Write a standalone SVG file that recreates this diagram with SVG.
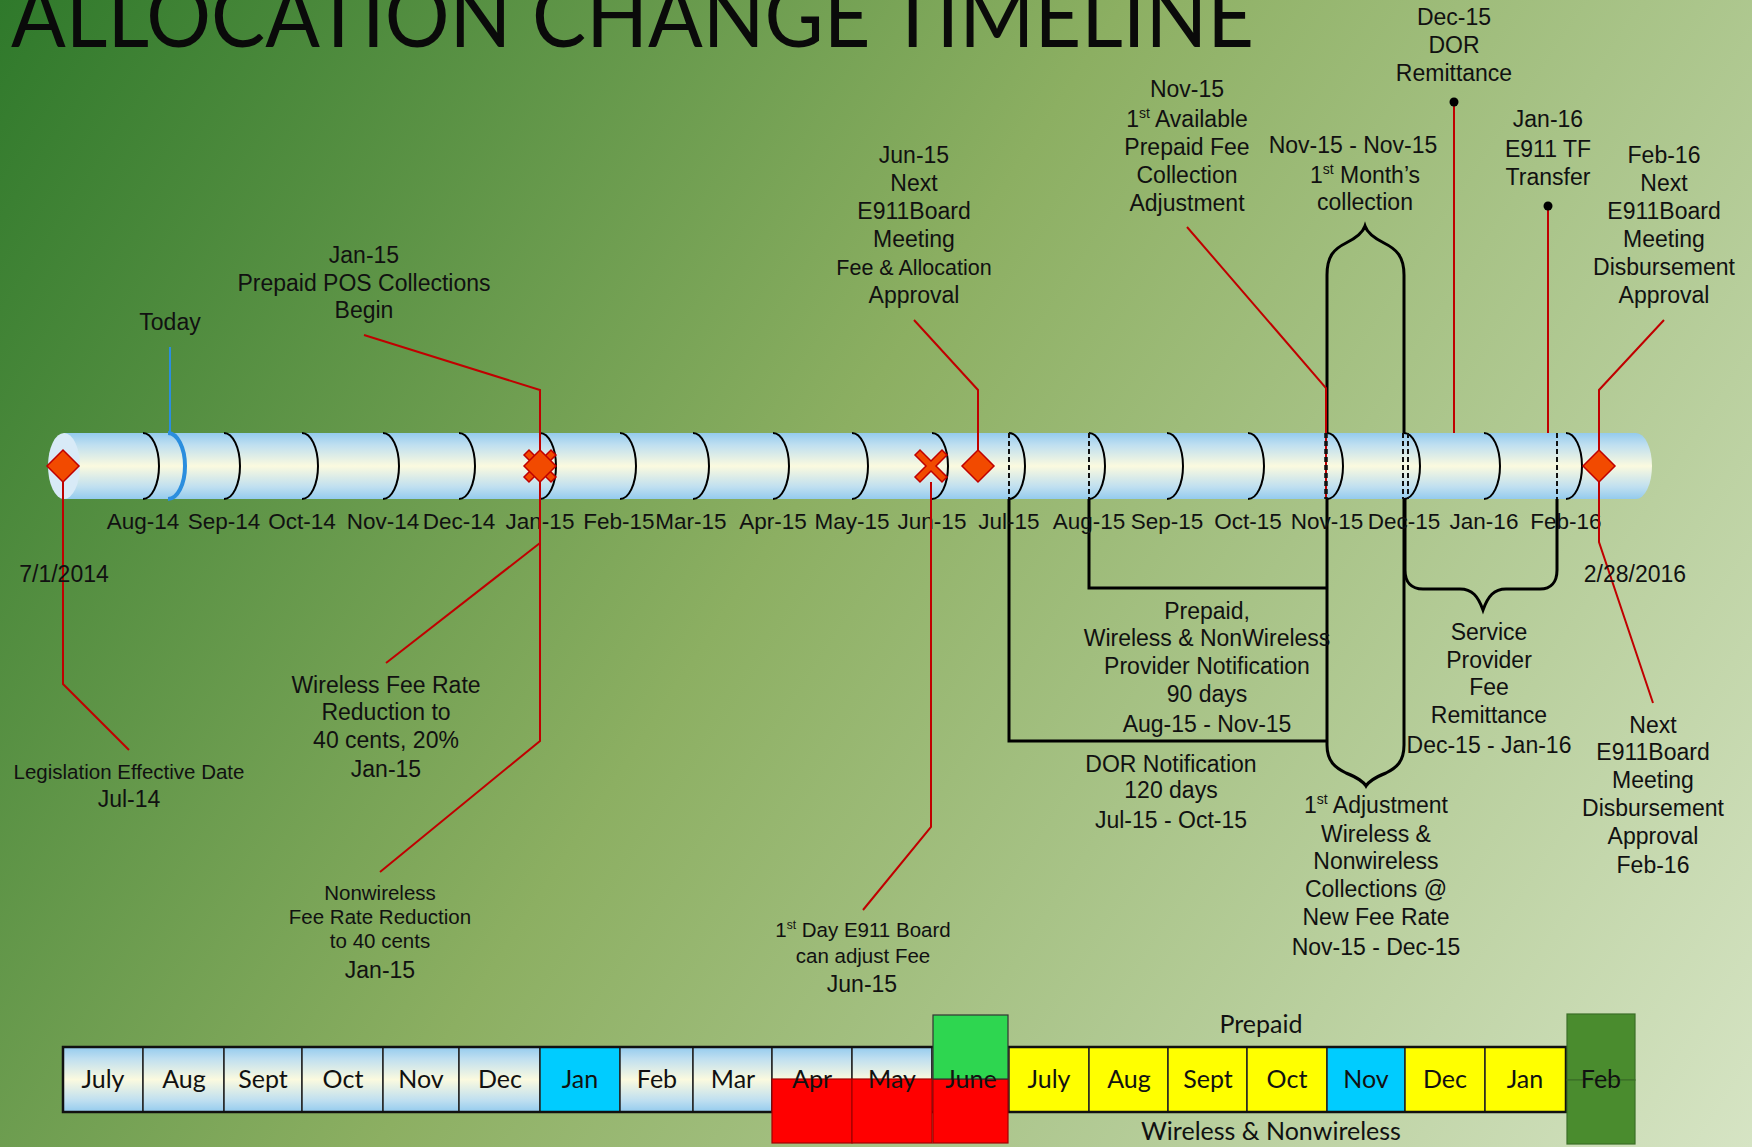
<svg xmlns="http://www.w3.org/2000/svg" width="1752" height="1147" viewBox="0 0 1752 1147">
  <defs>
    <linearGradient id="bg" gradientUnits="userSpaceOnUse" x1="0" y1="0" x2="1752" y2="1147">
      <stop offset="0" stop-color="#2f792b"/>
      <stop offset="0.45" stop-color="#8caf62"/>
      <stop offset="1" stop-color="#d6e4c4"/>
    </linearGradient>
    <linearGradient id="pipe" x1="0" y1="0" x2="0" y2="1">
      <stop offset="0" stop-color="#94cbee"/>
      <stop offset="0.18" stop-color="#bfdff0"/>
      <stop offset="0.5" stop-color="#fbfadf"/>
      <stop offset="0.82" stop-color="#bfdff0"/>
      <stop offset="1" stop-color="#94cbee"/>
    </linearGradient>
    <path id="diamond" d="M0 -16 L16 0 L0 16 L-16 0 Z"/>
    <path id="xmark" d="M-16 -11 L-11 -16 L0 -5 L11 -16 L16 -11 L5 0 L16 11 L11 16 L0 5 L-11 16 L-16 11 L-5 0 Z"/>
    <style>
      .lbl { font-family: "Liberation Sans", Arial, sans-serif; font-size: 23px; fill: #111; text-anchor: middle; }
      .sm { font-size: 20.5px; }
      .axis { font-family: "Liberation Sans", Arial, sans-serif; font-size: 22.5px; fill: #111; text-anchor: middle; }
      .cal { font-family: Lato, "Open Sans", sans-serif; font-size: 25px; fill: #111; text-anchor: middle; }
      .lead { fill: none; stroke: #c00000; stroke-width: 2; }
      .bk { fill: none; stroke: #000; stroke-width: 3; }
      .mk { fill: #f24a00; stroke: #c00000; stroke-width: 1.5; }
      .dash { fill: none; stroke: #111; stroke-width: 2; stroke-dasharray: 5 3; }
      .cell { stroke: #222; stroke-width: 1.5; }
    </style>
  </defs>

  <!-- backdrop -->
  <rect x="0" y="0" width="1752" height="1147" fill="url(#bg)"/>

  <!-- title -->
  <text x="11" y="47" font-family="Lato, 'Open Sans', sans-serif" font-size="88" fill="#0a0a0a" textLength="1243" lengthAdjust="spacingAndGlyphs">ALLOCATION CHANGE TIMELINE</text>

  <!-- span brackets (drawn beneath the pipe) -->
  <g id="brackets">
    <path class="bk" d="M1327 745 V275 C1327 256 1334 249 1346 243 C1358 237 1363 232 1365 226 C1367 232 1372 237 1384 243 C1396 249 1404 256 1404 275 V745 C1404 762 1396 768 1386 773 C1374 778 1369 781 1366 786 C1363 781 1358 778 1346 773 C1336 768 1327 762 1327 745 Z"/>
    <path class="bk" d="M1009 499 V741 H1327"/>
    <path class="bk" d="M1089 499 V588 H1327"/>
    <path class="bk" d="M1405 499 V570 C1405 582 1411 589 1423 589 H1460 C1472 589 1478 596 1483 610 C1488 596 1494 589 1506 589 H1540 C1551 589 1557 582 1557 570 V499"/>
  </g>

  <!-- timeline pipe -->
  <g id="pipe-axis">
    <path d="M64 433 H1636 A16 33 0 0 1 1636 499 H64 Z" fill="url(#pipe)"/>
    <ellipse cx="64" cy="466" rx="16" ry="33" fill="#d8eaf7"/>
    <path fill="none" stroke="#000" stroke-width="2" d="M143 433 A16 33 0 0 1 143 499 M224 433 A16 33 0 0 1 224 499 M302 433 A16 33 0 0 1 302 499 M383 433 A16 33 0 0 1 383 499 M459 433 A16 33 0 0 1 459 499 M540 433 A16 33 0 0 1 540 499 M620 433 A16 33 0 0 1 620 499 M693 433 A16 33 0 0 1 693 499 M773 433 A16 33 0 0 1 773 499 M852 433 A16 33 0 0 1 852 499 M932 433 A16 33 0 0 1 932 499 M1009 433 A16 33 0 0 1 1009 499 M1089 433 A16 33 0 0 1 1089 499 M1167 433 A16 33 0 0 1 1167 499 M1248 433 A16 33 0 0 1 1248 499 M1327 433 A16 33 0 0 1 1327 499 M1404 433 A16 33 0 0 1 1404 499 M1484 433 A16 33 0 0 1 1484 499 M1566 433 A16 33 0 0 1 1566 499"/>
    <path fill="none" stroke="#2b8ede" stroke-width="4" d="M168 433 A17 33 0 0 1 168 499"/>
    <path class="dash" d="M1009 433 V499 M1089 433 V499 M1557 433 V499 M1403 433 V499 M1408 433 V499"/>
    <g class="axis">
      <text x="143" y="529">Aug-14</text>
      <text x="224" y="529">Sep-14</text>
      <text x="302" y="529">Oct-14</text>
      <text x="383" y="529">Nov-14</text>
      <text x="459" y="529">Dec-14</text>
      <text x="540" y="529">Jan-15</text>
      <text x="619" y="529">Feb-15</text>
      <text x="691" y="529">Mar-15</text>
      <text x="773" y="529">Apr-15</text>
      <text x="852" y="529">May-15</text>
      <text x="932" y="529">Jun-15</text>
      <text x="1009" y="529">Jul-15</text>
      <text x="1089" y="529">Aug-15</text>
      <text x="1167" y="529">Sep-15</text>
      <text x="1248" y="529">Oct-15</text>
      <text x="1327" y="529">Nov-15</text>
      <text x="1404" y="529">Dec-15</text>
      <text x="1484" y="529">Jan-16</text>
      <text x="1566" y="529">Feb-16</text>
    </g>
  </g>

  <!-- leader lines -->
  <g id="connectors">
    <path fill="none" stroke="#2b8ede" stroke-width="2" d="M170 347 V433"/>
    <path class="lead" d="M63 482 V684 L129 750"/>
    <path class="lead" d="M364 335 L540 390 V741 L380 872"/>
    <path class="lead" d="M540 543 L386 663"/>
    <path class="lead" d="M914 320 L978 390 V450"/>
    <path class="lead" d="M931 482 V827 L863 910"/>
    <path class="lead" d="M1187 227 L1326 388 V499"/>
    <path class="dash" style="stroke-width:3.5" d="M1326 433 V499"/>
    <path class="lead" d="M1454 102 V433"/>
    <circle cx="1454" cy="102" r="4.5" fill="#000"/>
    <path class="lead" d="M1548 206 V433"/>
    <circle cx="1548" cy="206" r="4.5" fill="#000"/>
    <path class="lead" d="M1664 320 L1599 390 V542 L1653 703"/>
  </g>

  <!-- event markers -->
  <g id="markers">
    <use href="#diamond" x="63" y="466" class="mk"/>
    <use href="#xmark" x="540" y="466" class="mk"/>
    <use href="#diamond" x="540" y="466" class="mk"/>
    <use href="#xmark" x="931" y="466" class="mk"/>
    <use href="#diamond" x="978" y="466" class="mk"/>
    <use href="#diamond" x="1599" y="466" class="mk"/>
  </g>

  <!-- annotations -->
  <g id="today"><text class="lbl" x="170" y="330">Today</text></g>

  <g id="prepaid-pos">
    <text class="lbl" x="364" y="263">Jan-15</text>
    <text class="lbl" x="364" y="291">Prepaid POS Collections</text>
    <text class="lbl" x="364" y="318">Begin</text>
  </g>

  <g id="board-jun15">
    <text class="lbl" x="914" y="163">Jun-15</text>
    <text class="lbl" x="914" y="191">Next</text>
    <text class="lbl" x="914" y="219">E911Board</text>
    <text class="lbl" x="914" y="247">Meeting</text>
    <text class="lbl" x="914" y="275" style="font-size:21.5px">Fee &amp; Allocation</text>
    <text class="lbl" x="914" y="303">Approval</text>
  </g>

  <g id="prepaid-adjust">
    <text class="lbl" x="1187" y="97">Nov-15</text>
    <text class="lbl" x="1187" y="127">1<tspan font-size="14" dy="-9">st</tspan><tspan dy="9"> Available</tspan></text>
    <text class="lbl" x="1187" y="155">Prepaid Fee</text>
    <text class="lbl" x="1187" y="183">Collection</text>
    <text class="lbl" x="1187" y="211">Adjustment</text>
  </g>

  <g id="first-month">
    <text class="lbl" x="1353" y="153">Nov-15 - Nov-15</text>
    <text class="lbl" x="1365" y="183">1<tspan font-size="14" dy="-9">st</tspan><tspan dy="9"> Month’s</tspan></text>
    <text class="lbl" x="1365" y="210">collection</text>
  </g>

  <g id="dor-remit">
    <text class="lbl" x="1454" y="25">Dec-15</text>
    <text class="lbl" x="1454" y="53">DOR</text>
    <text class="lbl" x="1454" y="81">Remittance</text>
  </g>

  <g id="tf-transfer">
    <text class="lbl" x="1548" y="127">Jan-16</text>
    <text class="lbl" x="1548" y="157">E911 TF</text>
    <text class="lbl" x="1548" y="185">Transfer</text>
  </g>

  <g id="board-feb16">
    <text class="lbl" x="1664" y="163">Feb-16</text>
    <text class="lbl" x="1664" y="191">Next</text>
    <text class="lbl" x="1664" y="219">E911Board</text>
    <text class="lbl" x="1664" y="247">Meeting</text>
    <text class="lbl" x="1664" y="275">Disbursement</text>
    <text class="lbl" x="1664" y="303">Approval</text>
  </g>

  <g id="start-date"><text class="lbl" x="64" y="582">7/1/2014</text></g>
  <g id="end-date"><text class="lbl" x="1635" y="582">2/28/2016</text></g>

  <g id="legislation">
    <text class="lbl sm" x="129" y="779">Legislation Effective Date</text>
    <text class="lbl" x="129" y="807">Jul-14</text>
  </g>

  <g id="wireless-rate">
    <text class="lbl" x="386" y="693">Wireless Fee Rate</text>
    <text class="lbl" x="386" y="720">Reduction to</text>
    <text class="lbl" x="386" y="748">40 cents, 20%</text>
    <text class="lbl" x="386" y="777">Jan-15</text>
  </g>

  <g id="nonwireless-rate">
    <text class="lbl sm" x="380" y="900">Nonwireless</text>
    <text class="lbl sm" x="380" y="924">Fee Rate Reduction</text>
    <text class="lbl sm" x="380" y="948">to 40 cents</text>
    <text class="lbl" x="380" y="978">Jan-15</text>
  </g>

  <g id="first-day">
    <text class="lbl sm" x="863" y="937">1<tspan font-size="12" dy="-8">st</tspan><tspan dy="8"> Day E911 Board</tspan></text>
    <text class="lbl sm" x="863" y="963">can adjust Fee</text>
    <text class="lbl" x="862" y="992">Jun-15</text>
  </g>

  <g id="provider-notice">
    <text class="lbl" x="1207" y="619">Prepaid,</text>
    <text class="lbl" x="1207" y="646">Wireless &amp; NonWireless</text>
    <text class="lbl" x="1207" y="674">Provider Notification</text>
    <text class="lbl" x="1207" y="702">90 days</text>
    <text class="lbl" x="1207" y="732">Aug-15 - Nov-15</text>
  </g>

  <g id="dor-notice">
    <text class="lbl" x="1171" y="772">DOR Notification</text>
    <text class="lbl" x="1171" y="798">120 days</text>
    <text class="lbl" x="1171" y="828">Jul-15 - Oct-15</text>
  </g>

  <g id="first-adjust">
    <text class="lbl" x="1376" y="813">1<tspan font-size="14" dy="-9">st</tspan><tspan dy="9"> Adjustment</tspan></text>
    <text class="lbl" x="1376" y="842">Wireless &amp;</text>
    <text class="lbl" x="1376" y="869">Nonwireless</text>
    <text class="lbl" x="1376" y="897">Collections @</text>
    <text class="lbl" x="1376" y="925">New Fee Rate</text>
    <text class="lbl" x="1376" y="955">Nov-15 - Dec-15</text>
  </g>

  <g id="sp-remit">
    <text class="lbl" x="1489" y="640">Service</text>
    <text class="lbl" x="1489" y="668">Provider</text>
    <text class="lbl" x="1489" y="695">Fee</text>
    <text class="lbl" x="1489" y="723">Remittance</text>
    <text class="lbl" x="1489" y="753">Dec-15 - Jan-16</text>
  </g>

  <g id="board-feb16-low">
    <text class="lbl" x="1653" y="733">Next</text>
    <text class="lbl" x="1653" y="760">E911Board</text>
    <text class="lbl" x="1653" y="788">Meeting</text>
    <text class="lbl" x="1653" y="816">Disbursement</text>
    <text class="lbl" x="1653" y="844">Approval</text>
    <text class="lbl" x="1653" y="873">Feb-16</text>
  </g>

  <!-- month calendar strip -->
  <g id="calendar">
    <g class="cell">
      <rect x="63" y="1047" width="80" height="65" fill="url(#pipe)"/>
      <rect x="143" y="1047" width="81" height="65" fill="url(#pipe)"/>
      <rect x="224" y="1047" width="78" height="65" fill="url(#pipe)"/>
      <rect x="302" y="1047" width="81" height="65" fill="url(#pipe)"/>
      <rect x="383" y="1047" width="76" height="65" fill="url(#pipe)"/>
      <rect x="459" y="1047" width="81" height="65" fill="url(#pipe)"/>
      <rect x="540" y="1047" width="80" height="65" fill="#00ccff"/>
      <rect x="620" y="1047" width="73" height="65" fill="url(#pipe)"/>
      <rect x="693" y="1047" width="79" height="65" fill="url(#pipe)"/>
      <rect x="772" y="1047" width="80" height="65" fill="url(#pipe)"/>
      <rect x="852" y="1047" width="80" height="65" fill="url(#pipe)"/>
      <rect x="932" y="1047" width="77" height="65" fill="url(#pipe)"/>
      <rect x="1009" y="1047" width="80" height="65" fill="#ffff00"/>
      <rect x="1089" y="1047" width="79" height="65" fill="#ffff00"/>
      <rect x="1168" y="1047" width="79" height="65" fill="#ffff00"/>
      <rect x="1247" y="1047" width="80" height="65" fill="#ffff00"/>
      <rect x="1327" y="1047" width="78" height="65" fill="#00ccff"/>
      <rect x="1405" y="1047" width="80" height="65" fill="#ffff00"/>
      <rect x="1485" y="1047" width="81" height="65" fill="#ffff00"/>
    </g>
    <rect x="63" y="1047" width="1503" height="65" fill="none" stroke="#111" stroke-width="2.5"/>
    <g stroke="#a00000" stroke-width="1.2" fill="#ff0000">
      <rect x="772" y="1079" width="80" height="64"/>
      <rect x="852" y="1079" width="80" height="64"/>
      <rect x="933" y="1079" width="75" height="64"/>
    </g>
    <rect x="933" y="1015" width="75" height="64" fill="#2ed650" stroke="#333" stroke-width="1.2"/>
    <g fill="#4a8c2e" stroke="#3b6e27" stroke-width="1.2">
      <rect x="1567" y="1014" width="68" height="66"/>
      <rect x="1567" y="1080" width="68" height="64"/>
    </g>
    <g class="cal">
      <text x="103" y="1088">July</text>
      <text x="184" y="1088">Aug</text>
      <text x="263" y="1088">Sept</text>
      <text x="343" y="1088">Oct</text>
      <text x="421" y="1088">Nov</text>
      <text x="500" y="1088">Dec</text>
      <text x="580" y="1088">Jan</text>
      <text x="657" y="1088">Feb</text>
      <text x="733" y="1088">Mar</text>
      <text x="812" y="1088">Apr</text>
      <text x="892" y="1088">May</text>
      <text x="971" y="1088">June</text>
      <text x="1049" y="1088">July</text>
      <text x="1129" y="1088">Aug</text>
      <text x="1208" y="1088">Sept</text>
      <text x="1287" y="1088">Oct</text>
      <text x="1366" y="1088">Nov</text>
      <text x="1445" y="1088">Dec</text>
      <text x="1525" y="1088">Jan</text>
      <text x="1601" y="1088">Feb</text>
      <text x="1261" y="1033">Prepaid</text>
      <text x="1271" y="1140">Wireless &amp; Nonwireless</text>
    </g>
  </g>
</svg>
